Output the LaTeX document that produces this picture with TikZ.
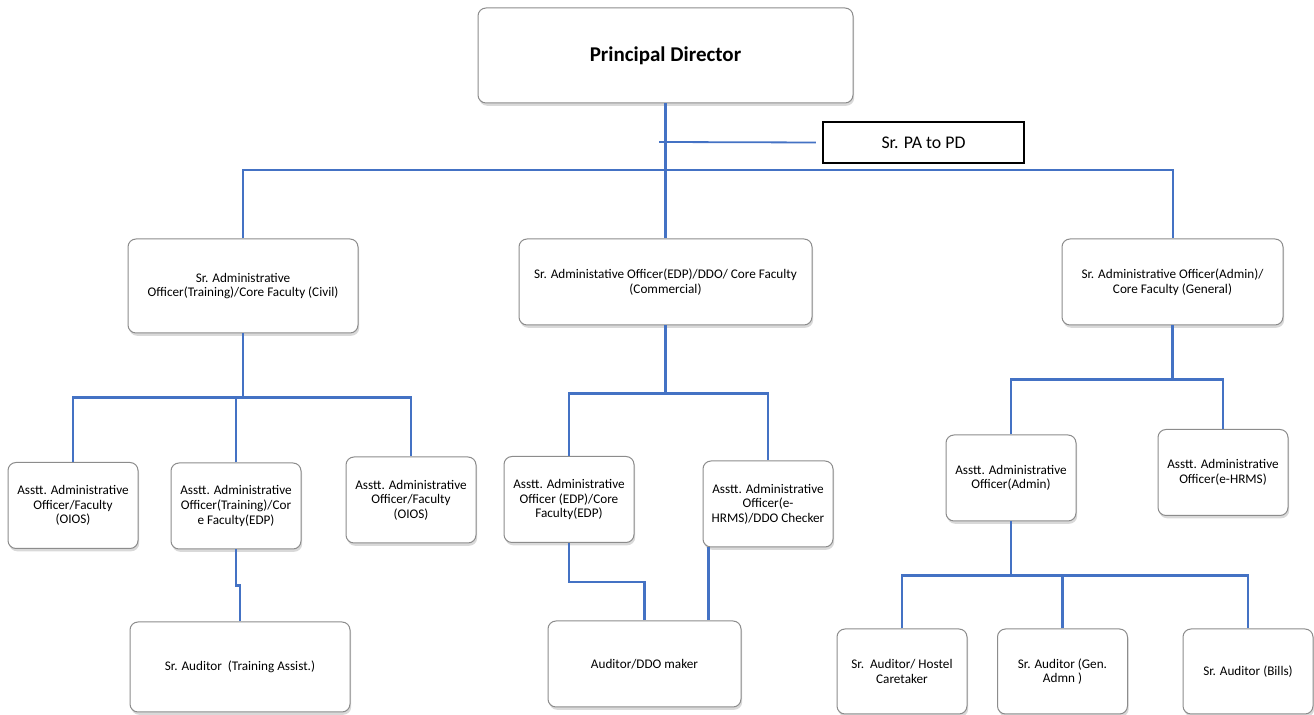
\documentclass[tikz,border=0pt]{standalone}
\usepackage{fontspec}
\setmainfont{Carlito}
\usetikzlibrary{shadows}
\definecolor{linkblue}{HTML}{4472C4}
\begin{document}
\begin{tikzpicture}[x=0.5pt,y=-0.5pt,
    box/.style={draw=black!45,line width=0.5pt,rounded corners=4pt,fill=white,align=center,
      inner sep=0.5pt,font=\fontsize{6.6}{7.3}\selectfont,
      drop shadow={shadow xshift=0.6pt,shadow yshift=-1.4pt,opacity=0.3}},
    asst/.style={box,minimum width=65pt,minimum height=43pt},
    link/.style={draw=linkblue,line width=1.3pt}]
    \useasboundingbox (0,0) rectangle (1314,715);
    \node[box,font=\bfseries\fontsize{10.5}{12}\selectfont,minimum width=187.5pt,minimum height=47.5pt] (pd) at (665.5,55.5) {Principal Director};
    \node[draw,line width=1.2pt,minimum width=100.5pt,minimum height=20.5pt,font=\fontsize{8.9}{10}\selectfont] (pa) at (923.5,142.5) {Sr. PA to PD};
    \node[box,minimum width=115pt,minimum height=47pt] (civil) at (243,286) {Sr. Administrative\\Officer(Training)/Core Faculty (Civil)};
    \node[box,minimum width=146.5pt,minimum height=43pt] (comm) at (665.5,282) {Sr. Administative Officer(EDP)/DDO/ Core Faculty\\(Commercial)};
    \node[box,minimum width=110.5pt,minimum height=43pt] (gen) at (1172.5,282) {Sr. Administrative Officer(Admin)/\\Core Faculty (General)};
    \node[asst] (oiosa) at (73,505.5) {Asstt. Administrative\\Officer/Faculty\\(OIOS)};
    \node[asst] (trg) at (236,506) {Asstt. Administrative\\Officer(Training)/Cor\\e Faculty(EDP)};
    \node[asst] (oiosb) at (411,500) {Asstt. Administrative\\Officer/Faculty\\(OIOS)};
    \node[asst] (edp) at (569,499.5) {Asstt. Administrative\\Officer (EDP)/Core\\Faculty(EDP)};
    \node[asst] (hrms) at (768,504) {Asstt. Administrative\\Officer(e-\\HRMS)/DDO Checker};
    \node[asst] (adm) at (1011,478) {Asstt. Administrative\\Officer(Admin)};
    \node[asst] (ehrms) at (1223,472.5) {Asstt. Administrative\\Officer(e-HRMS)};
    \node[box,minimum width=110pt,minimum height=45pt] (aud) at (240,667) {Sr. Auditor~~(Training Assist.)};
    \node[box,minimum width=96.5pt,minimum height=43pt] (ddo) at (644.5,664) {Auditor/DDO maker};
    \node[asst,minimum height=42.5pt] (hostel) at (902,671.5) {Sr.~~Auditor/ Hostel\\Caretaker};
    \node[asst,minimum height=42.5pt] (genadm) at (1062.5,671.5) {Sr. Auditor (Gen.\\Admn )};
    \node[asst,minimum height=42.5pt] (bills) at (1248,671.5) {Sr. Auditor (Bills)};
    \coordinate (patick) at (659,142);
    \draw[link] (pd.south) -- (comm.north);
    \draw[link,line width=0.9pt] (patick) -- ([xshift=-3pt]pa.west);
    \draw[link,line width=1pt] (civil.north) -- ++(0,-68) -| (gen.north);
    \draw[link] (civil.south) -- ++(0,64) coordinate (lbus);
    \draw[link] (oiosa.north) |- (lbus) -| (oiosb.north);
    \draw[link] (trg.north) -- (trg.north |- lbus);
    \draw[link] (trg.south) -- ++(0,36) -| (aud.north);
    \draw[link] (comm.south) -- ++(0,68) coordinate (mbus);
    \draw[link] (edp.north) |- (mbus) -| (hrms.north);
    \draw[link] (edp.south) -- ++(0,39) -| (ddo.north);
    \draw[link,line width=1.7pt] ([xshift=3pt]hrms.south west) -- ([xshift=3pt]hrms.south west |- ddo.north);
    \draw[link] (gen.south) -- ++(0,54) coordinate (rbus);
    \draw[link] (adm.north) |- (rbus) -| (ehrms.north);
    \draw[link] (adm.south) -- ++(0,54) coordinate (bbus);
    \draw[link] (hostel.north) |- (bbus) -| (bills.north);
    \draw[link] (genadm.north) -- (genadm.north |- bbus);
\end{tikzpicture}
\end{document}
